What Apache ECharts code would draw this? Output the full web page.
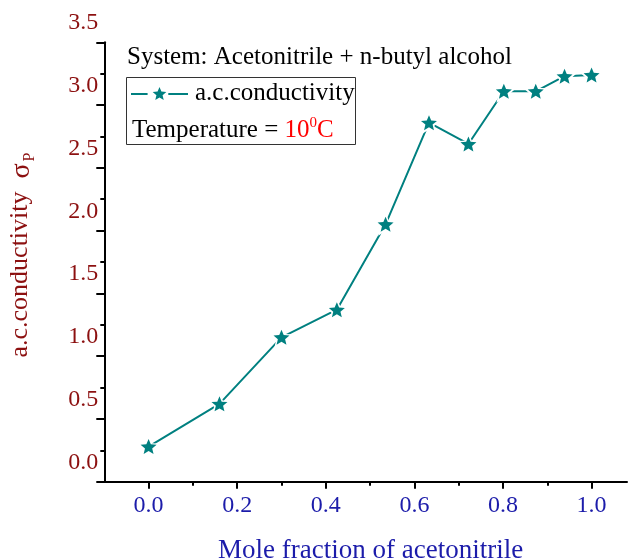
<!DOCTYPE html>
<html>
<head>
<meta charset="utf-8">
<script src="https://cdn.jsdelivr.net/npm/echarts@6/dist/echarts.min.js"></script>
<style>
  html, body { margin: 0; padding: 0; background: #fff; }
  #chart { width: 628px; height: 559px; }
</style>
</head>
<body>
<div id="chart"></div>
<script>
// Mole fraction of acetonitrile in the acetonitrile + n-butyl alcohol mixture
const moleFraction = [0.0, 0.16, 0.30, 0.425, 0.535, 0.633, 0.722, 0.802, 0.874, 0.939, 1.0];
// a.c. conductivity at 10 °C
const conductivity = [0.03, 0.37, 0.90, 1.12, 1.80, 2.61, 2.44, 2.86, 2.86, 2.98, 2.99];

// Tick values / labels
const xMajorTicks = [0.0, 0.2, 0.4, 0.6, 0.8, 1.0];
const xMinorTicks = [0.1, 0.3, 0.5, 0.7, 0.9];
const yTickLabels = [0.0, 0.5, 1.0, 1.5, 2.0, 2.5, 3.0, 3.5];
const yLongTicks = [-0.25, 0.25, 0.75, 1.25, 1.75, 2.25, 2.75, 3.25];
const yShortTicks = [0.0, 0.5, 1.0, 1.5, 2.0, 2.5, 3.0];

const SERIF = "'Liberation Serif', 'Times New Roman', serif";
const TEAL = '#008080';
const DARK_RED = '#8c1010';
const BLUE = '#1c1caa';

// five-pointed star
const STAR = 'path://M50,0 L63.23,31.8 L97.55,34.55 L71.4,56.95 L79.39,90.45 L50,72.5 L20.61,90.45 L28.6,56.95 L2.45,34.55 L36.77,31.8 Z';
// legend icon: dash, star, dash (570 x 130 units)
const LEGEND_ICON = 'path://M0,60 L166,60 L166,80 L0,80 Z ' +
  'M285,0 L304,45.7 L353.3,49.6 L315.8,81.8 L327.2,130 L285,104.2 L242.8,130 L254.2,81.8 L216.7,49.6 L266,45.7 Z ' +
  'M373,60 L570,60 L570,80 L373,80 Z M0,0 L0,0.1 L0.1,0 Z';

const points = moleFraction.map((x, i) => [x, conductivity[i]]);

const chart = echarts.init(document.getElementById('chart'), null, { renderer: 'canvas' });

chart.setOption({
  animation: false,
  backgroundColor: '#ffffff',
  textStyle: { fontFamily: SERIF },
  title: [
    {
      text: 'System: Acetonitrile + n-butyl alcohol',
      left: 127, top: 45, padding: 0,
      textStyle: { fontFamily: SERIF, fontSize: 25, fontWeight: 'normal', color: '#000' }
    },
    {
      text: 'Temperature = {r|10}{sup|0}{r|C}',
      left: 132, top: 116, padding: 0,
      textStyle: {
        fontFamily: SERIF, fontSize: 25, fontWeight: 'normal', color: '#000', lineHeight: 28,
        rich: {
          r: { fontFamily: SERIF, fontSize: 25, color: '#ff0000', lineHeight: 28 },
          sup: { fontFamily: SERIF, fontSize: 15, color: '#ff0000', verticalAlign: 'top', lineHeight: 16 }
        }
      }
    }
  ],
  graphic: [
    {
      type: 'rect',
      shape: { x: 126.5, y: 77.5, width: 229, height: 67 },
      style: { fill: 'none', stroke: '#333', lineWidth: 1 },
      z: 10
    }
  ],
  legend: {
    data: [{ name: 'a.c.conductivity', icon: LEGEND_ICON }],
    left: 131, top: 81, padding: 0,
    itemWidth: 57, itemHeight: 13, itemGap: 0,
    textStyle: { fontFamily: SERIF, fontSize: 25, color: '#000', padding: [0, 0, 0, 2] }
  },
  grid: [
    { left: 104.3, right: 1, top: 42.3, bottom: 77.3, outerBoundsMode: 'none', containLabel: false },
    { left: 104.3, right: 1, top: 11.0, bottom: 77.3, outerBoundsMode: 'none', containLabel: false }
  ],
  xAxis: [
    {
      type: 'value', gridIndex: 0, position: 'bottom', min: -0.1, max: 1.08,
      name: 'Mole fraction of acetonitrile',
      nameLocation: 'middle', nameGap: 56,
      nameTextStyle: { fontFamily: SERIF, fontSize: 27, color: BLUE, padding: [0, 0, 0, 10] },
      axisLine: { show: true, onZero: false, lineStyle: { color: '#000', width: 2 } },
      axisTick: { show: true, customValues: xMajorTicks, length: 7, lineStyle: { color: '#000', width: 2 } },
      axisLabel: {
        show: true, customValues: xMajorTicks, margin: 12,
        fontFamily: SERIF, fontSize: 24, color: BLUE,
        formatter: v => v.toFixed(1)
      },
      splitLine: { show: false }
    },
    {
      type: 'value', gridIndex: 0, position: 'bottom', min: -0.1, max: 1.08,
      axisLine: { show: false, onZero: false },
      axisTick: { show: true, customValues: xMinorTicks, length: 4, lineStyle: { color: '#000', width: 2 } },
      axisLabel: { show: false },
      splitLine: { show: false }
    },
    {
      type: 'value', gridIndex: 1, min: -0.1, max: 1.08, show: false
    }
  ],
  yAxis: [
    {
      type: 'value', gridIndex: 0, position: 'left', min: -0.25, max: 3.25,
      name: '{t|a.c.conductivity  }{sig|σ}{sub|P}',
      nameLocation: 'middle', nameGap: 67,
      nameTextStyle: {
        fontFamily: SERIF, fontSize: 26, color: DARK_RED, padding: [0, 0, 0, 14],
        rich: {
          t: { fontFamily: SERIF, fontSize: 26, color: DARK_RED, lineHeight: 30, verticalAlign: 'top' },
          sig: { fontFamily: SERIF, fontSize: 28, color: DARK_RED, lineHeight: 30, verticalAlign: 'top' },
          sub: { fontFamily: SERIF, fontSize: 16, color: DARK_RED, lineHeight: 14, verticalAlign: 'bottom', padding: [0, 0, 0, 2] }
        }
      },
      axisLine: { show: true, onZero: false, lineStyle: { color: '#000', width: 2 } },
      axisTick: { show: true, customValues: yLongTicks, length: 8, lineStyle: { color: '#000', width: 2 } },
      axisLabel: { show: false },
      splitLine: { show: false }
    },
    {
      type: 'value', gridIndex: 0, position: 'left', min: -0.25, max: 3.25,
      axisLine: { show: false, onZero: false },
      axisTick: { show: true, customValues: yShortTicks, length: 4, lineStyle: { color: '#000', width: 2 } },
      axisLabel: { show: false },
      splitLine: { show: false }
    },
    {
      type: 'value', gridIndex: 1, position: 'left', min: -0.25, max: 3.5,
      axisLine: { show: false, onZero: false },
      axisTick: { show: false },
      axisLabel: {
        show: true, customValues: yTickLabels, margin: 6,
        fontFamily: SERIF, fontSize: 24, color: DARK_RED,
        verticalAlign: 'top', lineHeight: 24,
        formatter: v => v.toFixed(1)
      },
      splitLine: { show: false }
    }
  ],
  series: [
    {
      name: 'a.c.conductivity',
      type: 'line',
      xAxisIndex: 0, yAxisIndex: 0,
      data: points,
      showSymbol: false,
      symbol: 'none',
      lineStyle: { color: TEAL, width: 2 },
      itemStyle: { color: TEAL },
      z: 2
    },
    {
      name: 'halo',
      type: 'scatter',
      xAxisIndex: 0, yAxisIndex: 0,
      data: points,
      symbol: STAR,
      symbolSize: [24, 23],
      itemStyle: { color: '#ffffff', opacity: 1 },
      silent: true,
      z: 3
    },
    {
      name: 'stars',
      type: 'scatter',
      xAxisIndex: 0, yAxisIndex: 0,
      data: points,
      symbol: STAR,
      symbolSize: [16, 15],
      itemStyle: { color: TEAL, opacity: 1 },
      silent: true,
      z: 4
    }
  ]
});
</script>
</body>
</html>
